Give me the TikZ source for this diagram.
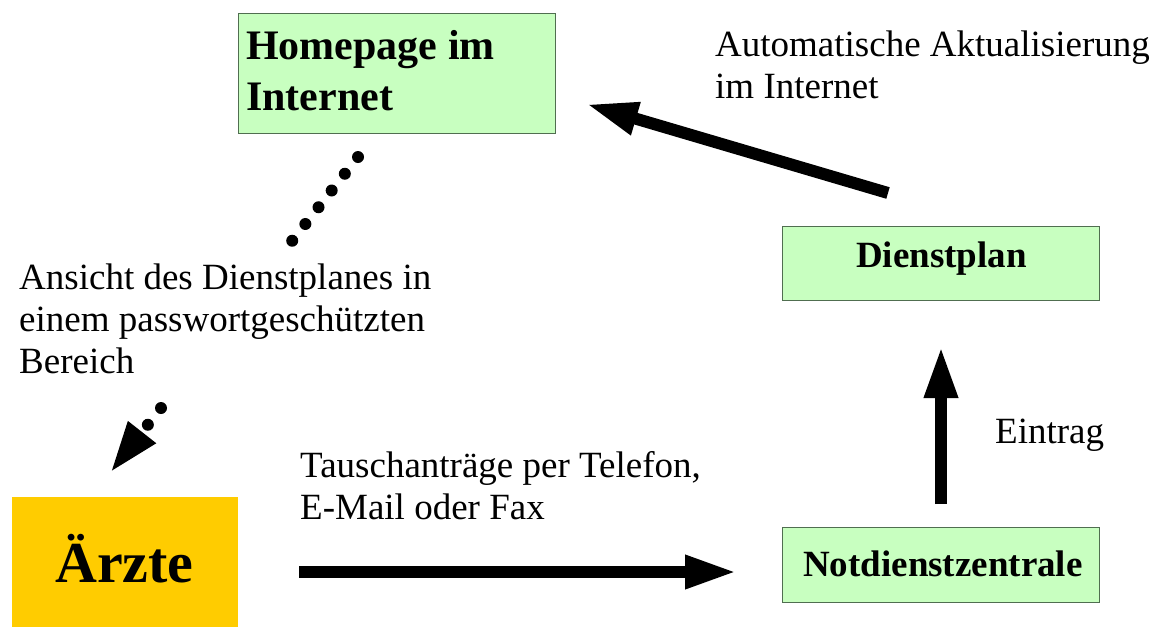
\documentclass[tikz,border=0pt]{standalone}
\usepackage{fontspec}
\setmainfont{Liberation Serif}
\usetikzlibrary{arrows.meta}
\definecolor{boxgreen}{RGB}{200,255,192}
\definecolor{boxline}{RGB}{80,110,80}
\definecolor{docyellow}{RGB}{255,204,0}
\tikzset{
  gbox/.style={draw=boxline, line width=1pt, fill=boxgreen},
  ybox/.style={fill=docyellow, draw=none},
  lbl/.style={inner sep=0pt, anchor=base west, align=left, font=\fontsize{37}{42}\selectfont},
  btxt/.style={inner sep=0pt, anchor=base west, align=left},
  bigarrow/.style={line width=12pt, -{Triangle[length=52pt,width=31pt]}},
  dotline/.style={line width=12pt, line cap=round, dash pattern=on 0pt off 21.3pt}
}
\begin{document}
\begin{tikzpicture}[x=1pt,y=-1pt]
\useasboundingbox (0,0) rectangle (1157,627);
% boxes
\draw[gbox] (238,13) rectangle (555,133);
\node[btxt, font=\bfseries\fontsize{42}{51}\selectfont] (hp) at (246,110) {Homepage im\\Internet};
\draw[gbox] (782,226) rectangle (1099,300);
\node[btxt, font=\bfseries\fontsize{37}{42}\selectfont] (dp) at (856,267) {Dienstplan};
\draw[gbox] (782,527) rectangle (1099,602);
\node[btxt, font=\bfseries\fontsize{37}{42}\selectfont] (nz) at (803,576) {Notdienstzentrale};
\fill[ybox] (12,497) rectangle (238,627);
\node[btxt, font=\bfseries\fontsize{58}{66}\selectfont] (ae) at (55,582) {Ärzte};
% labels
\node[lbl] (l1) at (715,98) {Automatische Aktualisierung\\im Internet};
\node[lbl] (l2) at (19,373) {Ansicht des Dienstplanes in\\einem passwortgeschützten\\Bereich};
\node[lbl] (l3) at (300,519) {Tauschanträge per Telefon,\\E-Mail oder Fax};
\node[lbl] (l4) at (995,443) {Eintrag};
% connector endpoints
\coordinate (dpOut) at (888,193);
\coordinate (hpIn) at (586,104);
\coordinate (aeOut) at (299,572);
\coordinate (nzIn) at (737,572);
\coordinate (nzOut) at (941,504);
\coordinate (dpIn) at (941,346);
\coordinate (hpOut) at (358,157);
\coordinate (dotA) at (292,241);
\coordinate (dotB) at (161,408);
\coordinate (aeIn) at (110,473);
% connectors
\draw[bigarrow] (dpOut) -- (hpIn);
\draw[bigarrow] (aeOut) -- (nzIn);
\draw[bigarrow] (nzOut) -- (dpIn);
\draw[dotline] (hpOut) -- (dotA);
\draw[dotline, -{Triangle[length=52pt,width=32pt]}] (dotB) -- (aeIn);
\end{tikzpicture}
\end{document}
